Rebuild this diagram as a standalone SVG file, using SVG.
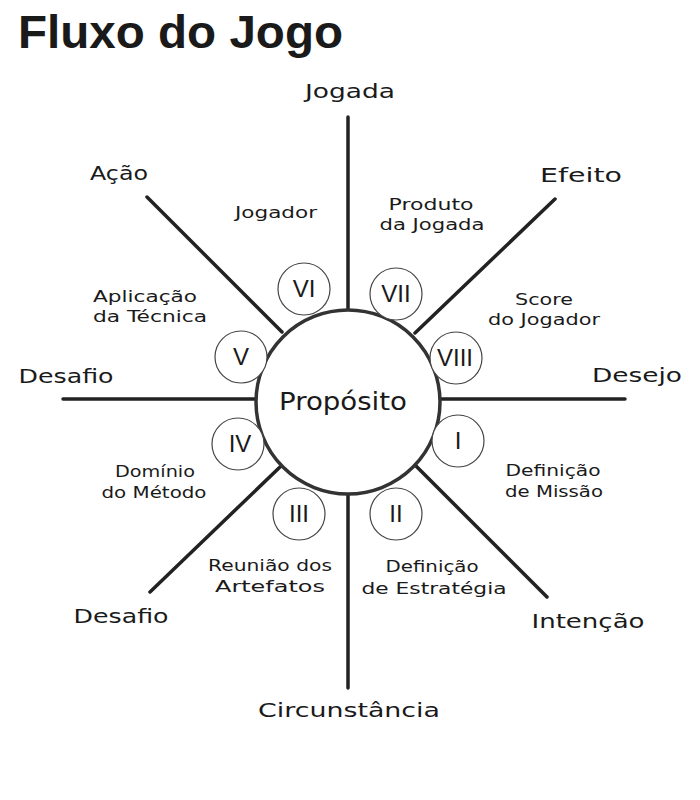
<svg xmlns="http://www.w3.org/2000/svg" width="700" height="800" viewBox="0 0 700 800">
<style>
.title{font-family:"Liberation Sans",Arial,sans-serif;font-weight:bold;font-size:46px;fill:#1a1a1a}
.outer{font-family:"DejaVu Sans",sans-serif;font-size:20px;fill:#1a1a1a;text-anchor:middle}
.inner{font-family:"DejaVu Sans",sans-serif;font-size:16.5px;fill:#1a1a1a;text-anchor:middle}
.center{font-family:"DejaVu Sans",sans-serif;font-size:25px;fill:#1a1a1a;text-anchor:middle}
.roman{font-family:"Liberation Sans",Arial,sans-serif;font-size:24px;fill:#1a1a1a;text-anchor:middle}
.spoke{stroke:#222;stroke-width:3.5;stroke-linecap:round;fill:none}
.small{fill:#fff;stroke:#444;stroke-width:1.2}
.hub{fill:#fff;stroke:#333;stroke-width:3.5}
</style>
<rect width="700" height="800" fill="#fff"/>
<text class="title" x="18" y="48" textLength="325" lengthAdjust="spacingAndGlyphs">Fluxo do Jogo</text>

<g id="connectors">
<line class="spoke" x1="348" y1="117" x2="348" y2="312"/>
<line class="spoke" x1="348" y1="493" x2="348" y2="688"/>
<line class="spoke" x1="63" y1="399" x2="258" y2="399"/>
<line class="spoke" x1="438" y1="399" x2="625" y2="399"/>
<line class="spoke" x1="147" y1="197" x2="282" y2="332"/>
<line class="spoke" x1="555" y1="199" x2="415" y2="333"/>
<line class="spoke" x1="150" y1="592" x2="280" y2="467"/>
<line class="spoke" x1="547" y1="597" x2="415" y2="465"/>
</g>

<g id="proposito">
<circle class="hub" cx="348" cy="402" r="92"/>
<text class="center" x="343" y="410" textLength="128" lengthAdjust="spacingAndGlyphs">Propósito</text>
</g>

<g id="n-I"><circle class="small" cx="458" cy="441" r="26"/><text class="roman" x="458" y="449">I</text></g>
<g id="n-II"><circle class="small" cx="396" cy="514" r="26"/><text class="roman" x="396" y="522">II</text></g>
<g id="n-III"><circle class="small" cx="299" cy="514" r="26"/><text class="roman" x="299" y="522">III</text></g>
<g id="n-IV"><circle class="small" cx="238" cy="444" r="26"/><text class="roman" x="240" y="452">IV</text></g>
<g id="n-V"><circle class="small" cx="241" cy="357" r="26"/><text class="roman" x="241" y="365">V</text></g>
<g id="n-VI"><circle class="small" cx="304" cy="289" r="26"/><text class="roman" x="304" y="297">VI</text></g>
<g id="n-VII"><circle class="small" cx="396" cy="294" r="26"/><text class="roman" x="396" y="302">VII</text></g>
<g id="n-VIII"><circle class="small" cx="456" cy="358" r="26"/><text class="roman" x="455" y="366">VIII</text></g>

<g id="l-jogada"><text class="outer" x="350" y="98" textLength="90" lengthAdjust="spacingAndGlyphs">Jogada</text></g>
<g id="l-acao"><text class="outer" x="119" y="180" textLength="58" lengthAdjust="spacingAndGlyphs">Ação</text></g>
<g id="l-efeito"><text class="outer" x="581" y="182" textLength="82" lengthAdjust="spacingAndGlyphs">Efeito</text></g>
<g id="l-desafio1"><text class="outer" x="66" y="383" textLength="95" lengthAdjust="spacingAndGlyphs">Desafio</text></g>
<g id="l-desejo"><text class="outer" x="637" y="382" textLength="90" lengthAdjust="spacingAndGlyphs">Desejo</text></g>
<g id="l-desafio2"><text class="outer" x="121" y="623" textLength="95" lengthAdjust="spacingAndGlyphs">Desafio</text></g>
<g id="l-intencao"><text class="outer" x="588" y="628" textLength="113" lengthAdjust="spacingAndGlyphs">Intenção</text></g>
<g id="l-circunstancia"><text class="outer" x="349" y="717" textLength="182" lengthAdjust="spacingAndGlyphs">Circunstância</text></g>

<g id="l-jogador"><text class="inner" x="276" y="218" textLength="82" lengthAdjust="spacingAndGlyphs">Jogador</text></g>
<g id="l-produto"><text class="inner" x="431" y="210" textLength="85" lengthAdjust="spacingAndGlyphs">Produto</text><text class="inner" x="432" y="230" textLength="105" lengthAdjust="spacingAndGlyphs">da Jogada</text></g>
<g id="l-aplicacao"><text class="inner" x="145" y="302" textLength="104" lengthAdjust="spacingAndGlyphs">Aplicação</text><text class="inner" x="150" y="322" textLength="114" lengthAdjust="spacingAndGlyphs">da Técnica</text></g>
<g id="l-score"><text class="inner" x="544" y="305" textLength="58" lengthAdjust="spacingAndGlyphs">Score</text><text class="inner" x="544" y="325" textLength="112" lengthAdjust="spacingAndGlyphs">do Jogador</text></g>
<g id="l-dominio"><text class="inner" x="155" y="477" textLength="80" lengthAdjust="spacingAndGlyphs">Domínio</text><text class="inner" x="154" y="498" textLength="105" lengthAdjust="spacingAndGlyphs">do Método</text></g>
<g id="l-missao"><text class="inner" x="553" y="476" textLength="95" lengthAdjust="spacingAndGlyphs">Definição</text><text class="inner" x="554" y="497" textLength="98" lengthAdjust="spacingAndGlyphs">de Missão</text></g>
<g id="l-reuniao"><text class="inner" x="270" y="571" textLength="124" lengthAdjust="spacingAndGlyphs">Reunião dos</text><text class="inner" x="270" y="592" textLength="110" lengthAdjust="spacingAndGlyphs">Artefatos</text></g>
<g id="l-estrategia"><text class="inner" x="432" y="572" textLength="93" lengthAdjust="spacingAndGlyphs">Definição</text><text class="inner" x="434" y="594" textLength="145" lengthAdjust="spacingAndGlyphs">de Estratégia</text></g>
</svg>
